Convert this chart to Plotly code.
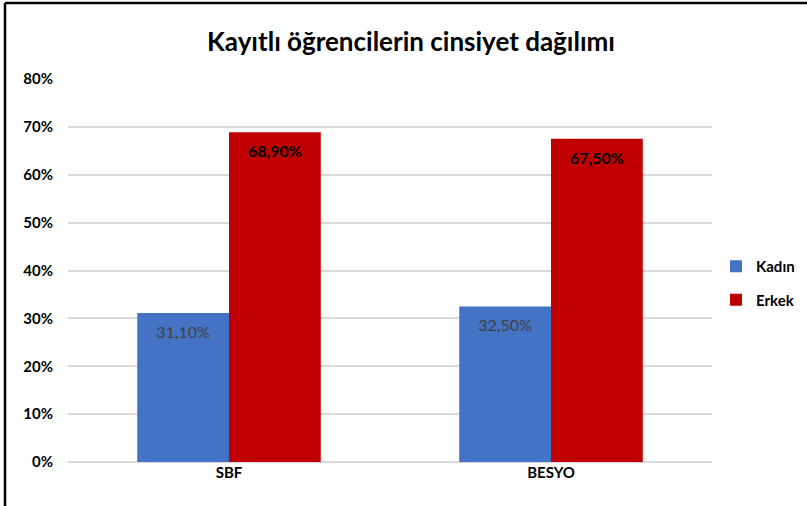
import plotly.graph_objects as go

# data
categories = ["SBF", "BESYO"]
kadin = [0.311, 0.325]
erkek = [0.689, 0.675]
series_names = ["Kadın", "Erkek"]
y_ticks = [0, 0.1, 0.2, 0.3, 0.4, 0.5, 0.6, 0.7, 0.8]

W, H = 807, 506
L, R, T, B = 68, 95, 79, 44
pw, ph = W - L - R, H - T - B

FONT = "Lato, Open Sans, sans-serif"
PAD = "<span style='font-size:1px'> </span><br>"

fig = go.Figure()

fig.add_trace(go.Bar(
    x=categories, y=kadin, name=series_names[0], legendgroup="k",
    marker=dict(color="#4472C4", line=dict(width=0)),
    texttemplate=PAD + "%{y:.2%}", textposition="inside", insidetextanchor="end",
    textfont=dict(color="#404040", size=16, family=FONT),
))
fig.add_trace(go.Bar(
    x=categories, y=erkek, name=series_names[1], legendgroup="e",
    marker=dict(color="#C00000", line=dict(width=0)),
    texttemplate=PAD + "<b>%{y:.2%}</b>", textposition="inside", insidetextanchor="end",
    textfont=dict(color="#000000", size=16, family=FONT),
))

# frame lines (top and left edge of the picture)
fig.add_shape(type="line", xref="paper", yref="paper",
              x0=(5 - L) / pw, x1=(W - L) / pw,
              y0=(H - B - 3) / ph, y1=(H - B - 3) / ph,
              line=dict(color="black", width=2.5))
fig.add_shape(type="line", xref="paper", yref="paper",
              x0=(5 - L) / pw, x1=(5 - L) / pw,
              y0=(H - B - 3) / ph, y1=(H - B - H) / ph,
              line=dict(color="black", width=2.5))

fig.update_layout(
    width=W, height=H,
    margin=dict(l=L, r=R, t=T, b=B, autoexpand=False),
    paper_bgcolor="white", plot_bgcolor="white",
    separators=",.",
    barmode="group", bargap=0.43, bargroupgap=0,
    font=dict(family=FONT, color="#000000"),
    title=dict(text="Kayıtlı öğrencilerin cinsiyet dağılımı",
               x=411 / W, xanchor="center", y=1 - 42 / H, yanchor="middle",
               font=dict(size=26, color="#000000", family=FONT, weight="bold")),
    xaxis=dict(tickfont=dict(size=15, family=FONT, weight="bold"), ticks="",
               showline=False, showgrid=False),
    yaxis=dict(range=[0, 0.8], tickvals=y_ticks, tickformat=".0%",
               tickfont=dict(size=15, family=FONT, weight="bold"),
               showgrid=True, gridcolor="#D9D9D9", gridwidth=1.5,
               zeroline=True, zerolinecolor="#D9D9D9", zerolinewidth=1.5,
               showline=False, ticks="", ticklabelstandoff=14),
    legend=dict(x=(716 - L) / pw, xanchor="left", y=(H - B - 283) / ph, yanchor="middle",
                font=dict(size=15, family=FONT, weight="bold"), tracegroupgap=11,
                itemwidth=30),
    uniformtext=dict(mode="show", minsize=14),
)

# the page body has a default 8px margin; remove it so the chart sits at 0,0
fig.write_html("out.html", config={"displayModeBar": False},
               post_script="document.body.style.margin='0';")
